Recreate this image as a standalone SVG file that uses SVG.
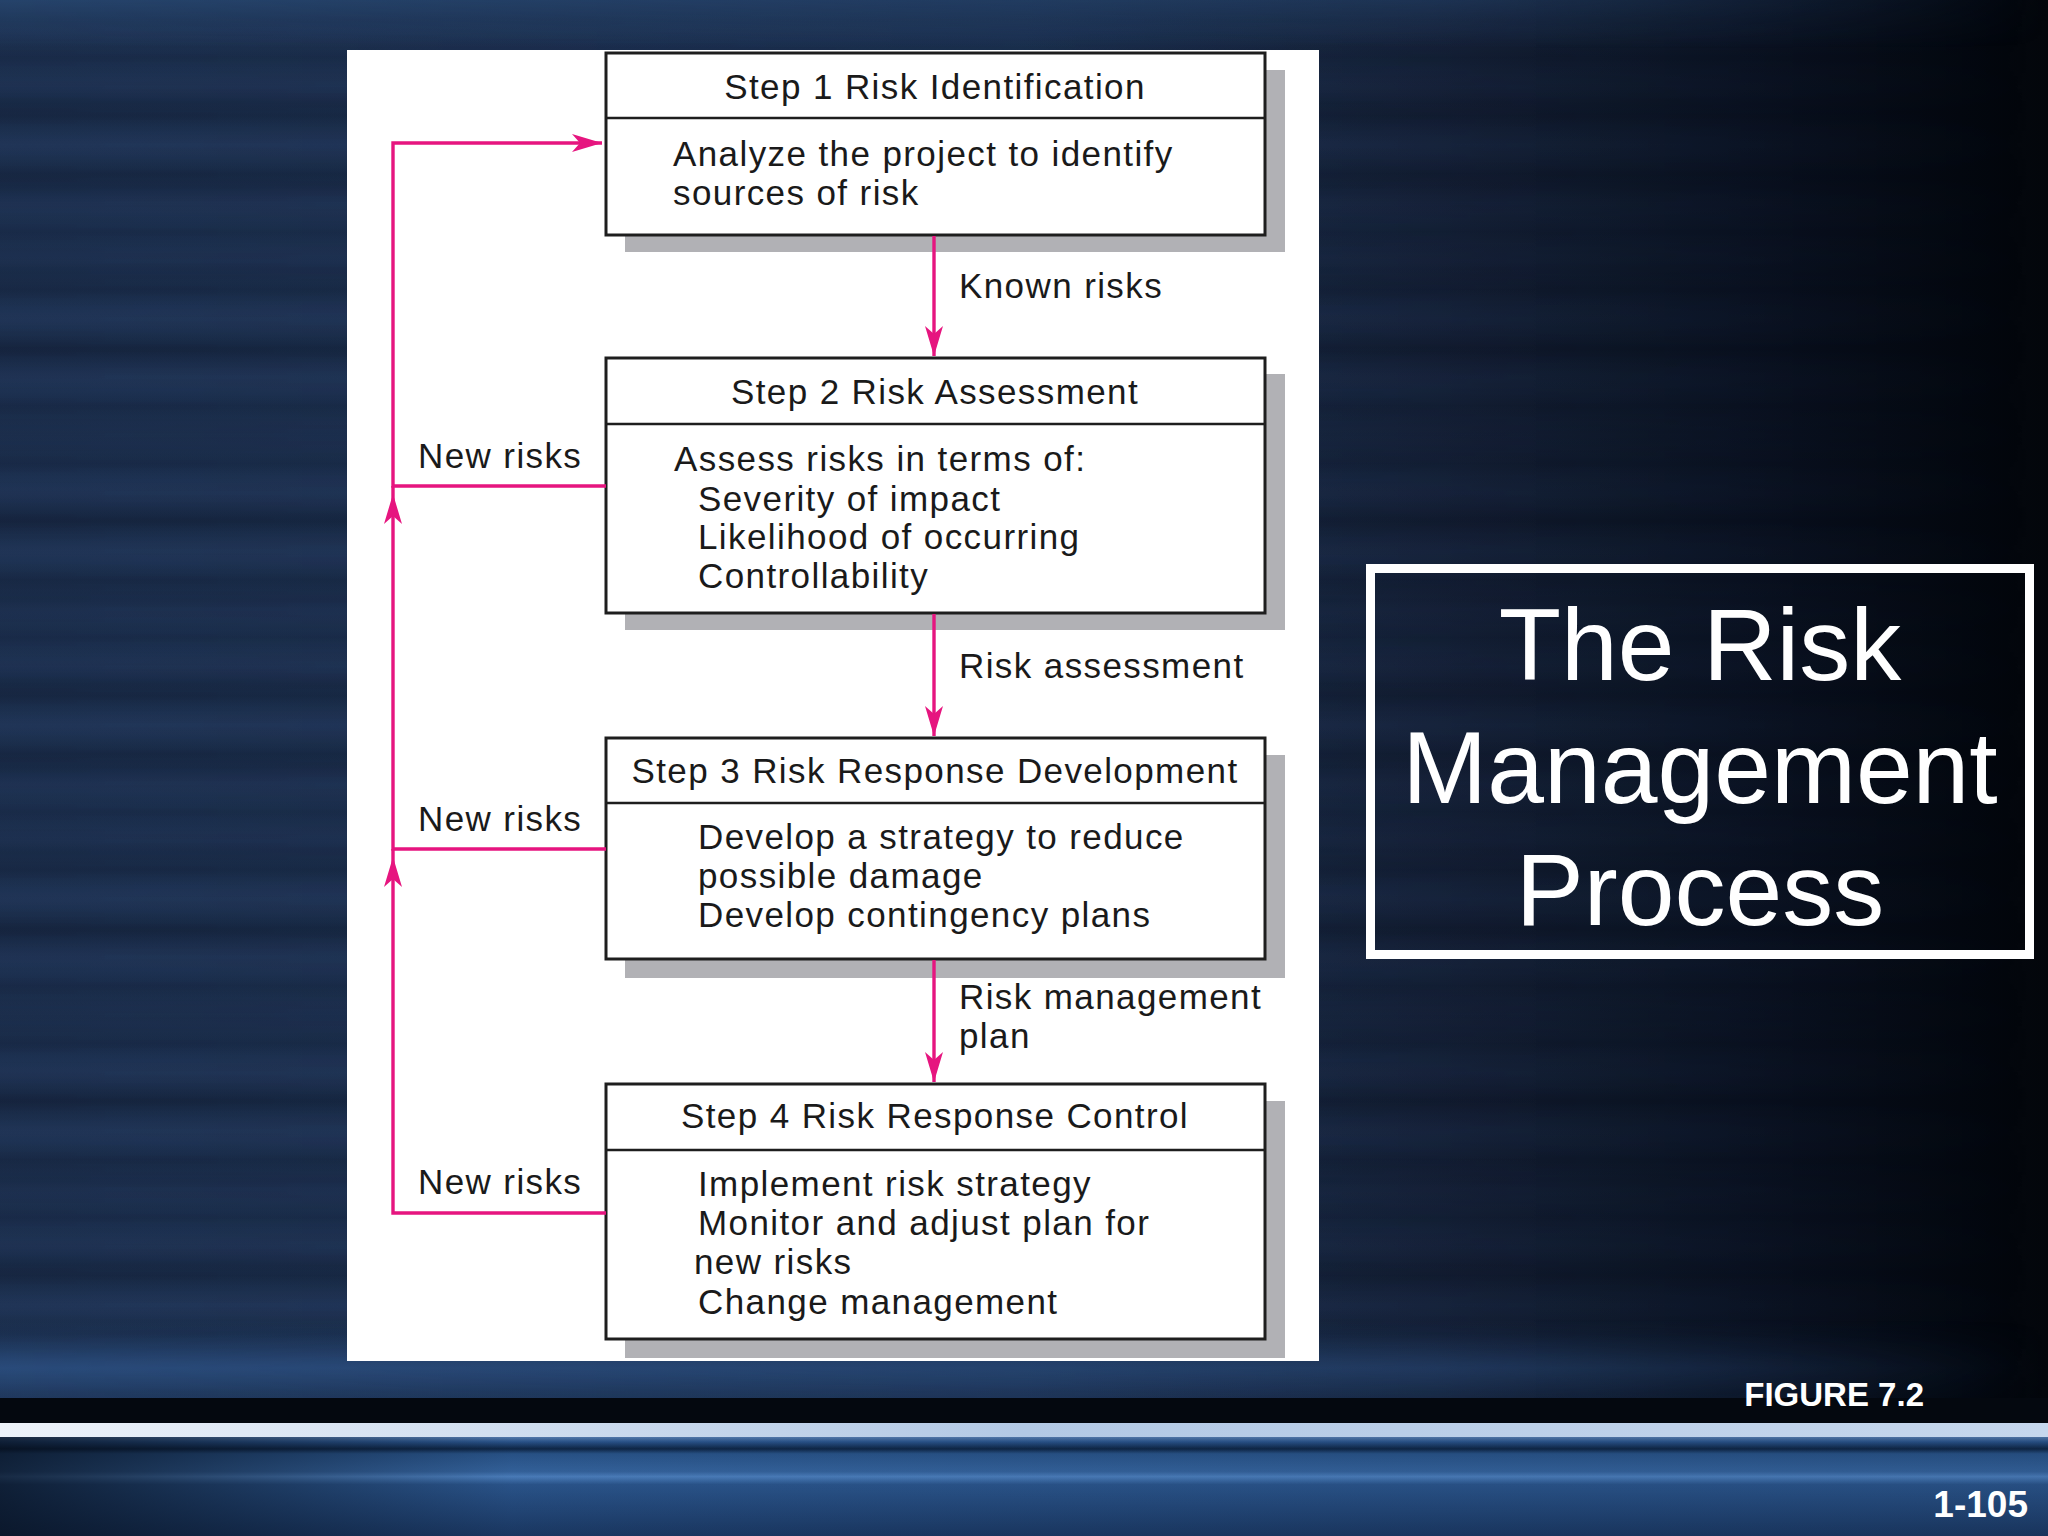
<svg xmlns="http://www.w3.org/2000/svg" width="2048" height="1536" viewBox="0 0 2048 1536">
<defs>
<linearGradient id="bgH" x1="0" y1="0" x2="1" y2="0">
<stop offset="0" stop-color="#1a2c4b"/>
<stop offset="0.5" stop-color="#192c4b"/>
<stop offset="0.68" stop-color="#131f36"/>
<stop offset="0.85" stop-color="#0a1120"/>
<stop offset="1" stop-color="#03060b"/>
</linearGradient>
<linearGradient id="stripes" gradientUnits="userSpaceOnUse" x1="0" y1="0" x2="0" y2="58" spreadMethod="repeat">
<stop offset="0" stop-color="#000000" stop-opacity="0.10"/>
<stop offset="0.5" stop-color="#5a86c0" stop-opacity="0.07"/>
<stop offset="1" stop-color="#000000" stop-opacity="0.10"/>
</linearGradient>
<linearGradient id="stripes2" gradientUnits="userSpaceOnUse" x1="0" y1="20" x2="0" y2="103" spreadMethod="repeat">
<stop offset="0" stop-color="#000000" stop-opacity="0.08"/>
<stop offset="0.5" stop-color="#4f7cb6" stop-opacity="0.05"/>
<stop offset="1" stop-color="#000000" stop-opacity="0.08"/>
</linearGradient>
<linearGradient id="fadeR" x1="0" y1="0" x2="1" y2="0">
<stop offset="0" stop-color="#fff"/>
<stop offset="0.7" stop-color="#fff" stop-opacity="0.6"/>
<stop offset="1" stop-color="#fff" stop-opacity="0"/>
</linearGradient>
<mask id="mR"><rect x="0" y="0" width="2048" height="1536" fill="url(#fadeR)"/></mask>
<linearGradient id="topBand" x1="0" y1="0" x2="0" y2="1">
<stop offset="0" stop-color="#27466f" stop-opacity="0.9"/>
<stop offset="1" stop-color="#27466f" stop-opacity="0"/>
</linearGradient>
<linearGradient id="lowBand" x1="0" y1="0" x2="0" y2="1">
<stop offset="0" stop-color="#2a4d7e" stop-opacity="0"/>
<stop offset="0.6" stop-color="#2c5184" stop-opacity="0.8"/>
<stop offset="1" stop-color="#2c5184" stop-opacity="0.3"/>
</linearGradient>
<linearGradient id="lightBar" x1="0" y1="0" x2="1" y2="0">
<stop offset="0" stop-color="#eef3fa"/>
<stop offset="0.5" stop-color="#b3c9e5"/>
<stop offset="1" stop-color="#c6d7ed"/>
</linearGradient>
<linearGradient id="footV" x1="0" y1="0" x2="0" y2="1">
<stop offset="0" stop-color="#5b84ba"/>
<stop offset="0.05" stop-color="#2b5791"/>
<stop offset="0.12" stop-color="#0f2849"/>
<stop offset="0.17" stop-color="#2b5890"/>
<stop offset="0.35" stop-color="#3869a6"/>
<stop offset="0.40" stop-color="#5086c8"/>
<stop offset="0.48" stop-color="#2d5a94"/>
<stop offset="1" stop-color="#1c3b68"/>
</linearGradient>
<linearGradient id="footShade" x1="0" y1="0" x2="1" y2="0">
<stop offset="0" stop-color="#050c18" stop-opacity="0.75"/>
<stop offset="0.25" stop-color="#050c18" stop-opacity="0.1"/>
<stop offset="1" stop-color="#050c18" stop-opacity="0.15"/>
</linearGradient>
<marker id="arr" viewBox="0 0 30 20" markerWidth="30" markerHeight="20" refX="30" refY="10" orient="auto" markerUnits="userSpaceOnUse">
<path d="M0,1 L30,10 L0,19 L8,10 Z" fill="#e6157f"/>
</marker>
<marker id="arrMid" viewBox="0 0 30 20" markerWidth="30" markerHeight="20" refX="38" refY="10" orient="auto" markerUnits="userSpaceOnUse" overflow="visible">
<path d="M0,1 L30,10 L0,19 L8,10 Z" fill="#e6157f"/>
</marker>
<style>
.t{font-family:"Liberation Sans",Arial,Helvetica,sans-serif;}
.lbl{font-size:35px;letter-spacing:1.4px;fill:#1a1a1a;}
.hd{text-anchor:middle;}
.box{fill:#ffffff;stroke:#1e1e1e;stroke-width:3;}
.div{stroke:#1e1e1e;stroke-width:2.5;}
.shd{fill:#b1b1b5;}
.con{fill:none;stroke:#e6157f;stroke-width:3.4;}
.big{font-size:102px;fill:#ffffff;text-anchor:middle;}
.foot{font-weight:bold;fill:#ffffff;text-anchor:end;}
</style>
</defs>

<!-- background -->
<rect x="0" y="0" width="2048" height="1536" fill="url(#bgH)"/>
<rect x="0" y="0" width="2048" height="1400" fill="url(#stripes)" mask="url(#mR)"/>
<rect x="0" y="0" width="2048" height="1400" fill="url(#stripes2)" mask="url(#mR)"/>
<rect x="0" y="0" width="2048" height="48" fill="url(#topBand)" mask="url(#mR)"/>
<rect x="0" y="1320" width="2048" height="80" fill="url(#lowBand)" mask="url(#mR)"/>
<rect x="0" y="1398" width="2048" height="25" fill="#04080f"/>
<rect x="0" y="1423" width="2048" height="14" fill="url(#lightBar)"/>
<rect x="0" y="1437" width="2048" height="99" fill="url(#footV)"/>
<rect x="0" y="1437" width="2048" height="99" fill="url(#footShade)"/>

<!-- figure panel -->
<rect x="347" y="50" width="972" height="1311" fill="#ffffff"/>

<g id="step1">
<rect class="shd" x="625" y="70" width="660" height="182"/>
<rect class="box" x="606" y="53" width="659" height="182"/>
<line class="div" x1="606" y1="118" x2="1265" y2="118"/>
<text class="t lbl hd" x="935" y="99">Step 1 Risk Identification</text>
<text class="t lbl" x="673" y="166">Analyze the project to identify</text>
<text class="t lbl" x="673" y="205">sources of risk</text>
</g>

<g id="step2">
<rect class="shd" x="625" y="374" width="660" height="256"/>
<rect class="box" x="606" y="358" width="659" height="255"/>
<line class="div" x1="606" y1="424" x2="1265" y2="424"/>
<text class="t lbl hd" x="935" y="404">Step 2 Risk Assessment</text>
<text class="t lbl" x="674" y="471">Assess risks in terms of:</text>
<text class="t lbl" x="698" y="511">Severity of impact</text>
<text class="t lbl" x="698" y="549">Likelihood of occurring</text>
<text class="t lbl" x="698" y="588">Controllability</text>
</g>

<g id="step3">
<rect class="shd" x="625" y="755" width="660" height="223"/>
<rect class="box" x="606" y="738" width="659" height="221"/>
<line class="div" x1="606" y1="803" x2="1265" y2="803"/>
<text class="t lbl hd" x="935" y="783">Step 3 Risk Response Development</text>
<text class="t lbl" x="698" y="849">Develop a strategy to reduce</text>
<text class="t lbl" x="698" y="888">possible damage</text>
<text class="t lbl" x="698" y="927">Develop contingency plans</text>
</g>

<g id="step4">
<rect class="shd" x="625" y="1101" width="660" height="257"/>
<rect class="box" x="606" y="1084" width="659" height="255"/>
<line class="div" x1="606" y1="1150" x2="1265" y2="1150"/>
<text class="t lbl hd" x="935" y="1128">Step 4 Risk Response Control</text>
<text class="t lbl" x="698" y="1196">Implement risk strategy</text>
<text class="t lbl" x="698" y="1235">Monitor and adjust plan for</text>
<text class="t lbl" x="694" y="1274">new risks</text>
<text class="t lbl" x="698" y="1314">Change management</text>
</g>

<g id="connectors">
<path class="con" d="M934,236 V356" marker-end="url(#arr)"/>
<path class="con" d="M934,614 V736" marker-end="url(#arr)"/>
<path class="con" d="M934,960 V1082" marker-end="url(#arr)"/>
<path class="con" d="M606,1213 H393 V849" marker-end="url(#arrMid)"/>
<path class="con" d="M606,849 H393 V486" marker-end="url(#arrMid)"/>
<path class="con" d="M606,486 H393 V143 H602" marker-end="url(#arr)"/>
<text class="t lbl" x="959" y="298">Known risks</text>
<text class="t lbl" x="959" y="678">Risk assessment</text>
<text class="t lbl" x="959" y="1009">Risk management</text>
<text class="t lbl" x="959" y="1048">plan</text>
<text class="t lbl" x="418" y="468">New risks</text>
<text class="t lbl" x="418" y="831">New risks</text>
<text class="t lbl" x="418" y="1194">New risks</text>
</g>

<g id="title">
<rect x="1370.5" y="568.5" width="659" height="386" fill="none" stroke="#ffffff" stroke-width="9"/>
<text class="t big" x="1700" y="680">The Risk</text>
<text class="t big" x="1700" y="803">Management</text>
<text class="t big" x="1700" y="925">Process</text>
</g>

<text class="t foot" x="1924" y="1406" font-size="33">FIGURE 7.2</text>
<text class="t foot" x="2028" y="1517" font-size="37">1-105</text>
</svg>
